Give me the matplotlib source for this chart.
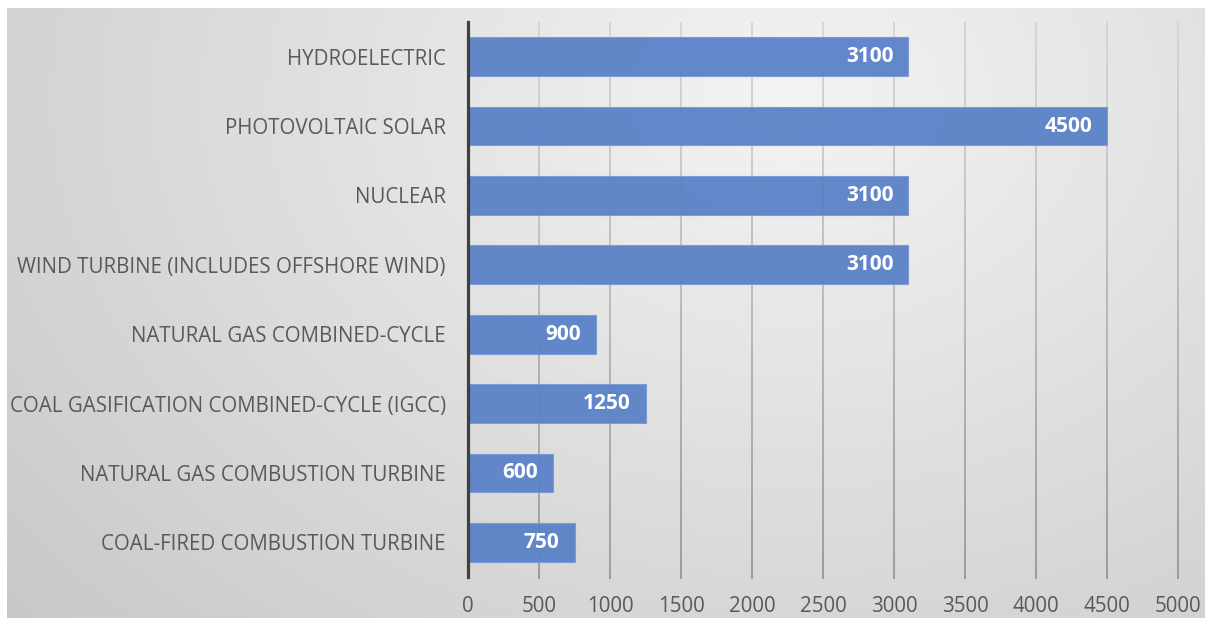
import numpy as np
import matplotlib
matplotlib.use("Agg")
import matplotlib.pyplot as plt
from matplotlib.collections import LineCollection

categories = [
    "HYDROELECTRIC",
    "PHOTOVOLTAIC SOLAR",
    "NUCLEAR",
    "WIND TURBINE (INCLUDES OFFSHORE WIND)",
    "NATURAL GAS COMBINED-CYCLE",
    "COAL GASIFICATION COMBINED-CYCLE (IGCC)",
    "NATURAL GAS COMBUSTION TURBINE",
    "COAL-FIRED COMBUSTION TURBINE",
]
values = [3100, 4500, 3100, 3100, 900, 1250, 600, 750]
x_ticks = [0, 500, 1000, 1500, 2000, 2500, 3000, 3500, 4000, 4500, 5000]

W, H = 1205, 618
fig = plt.figure(figsize=(W / 100, H / 100), dpi=100)
fig.patch.set_facecolor("white")

# radial grey gradient panel behind the chart
bg = fig.add_axes([7 / W, 0, 1 - 7 / W, 1 - 8 / H])
bg.set_axis_off()
yy, xx = np.mgrid[0:610, 0:1198]
cx, cy = 780, 90
d = np.sqrt(((xx - cx) / 1.0) ** 2 + ((yy - cy) / 0.75) ** 2)
d = d / d.max()
shade = 0.955 - 0.17 * d
img = np.dstack([shade, shade, shade])
bg.imshow(img, aspect="auto", extent=[0, 1, 0, 1], origin="upper")
bg.set_xlim(0, 1)
bg.set_ylim(0, 1)

left, right = 468 / W, 1178 / W
bottom, top = 1 - 577 / H, 1 - 22 / H
ax = fig.add_axes([left, bottom, right - left, top - bottom])
ax.patch.set_alpha(0)

n = len(categories)
y = np.arange(n)
ax.set_xlim(0, 5000)
ax.set_ylim(n - 0.5, -0.5)

# vertical gridlines, fading from dark at the bottom to light at the top
steps = 40
ys = np.linspace(n - 0.5 + 0.03, -0.5, steps + 1)
segs, cols = [], []
for t in x_ticks[1:]:
    for i in range(steps):
        segs.append([(t, ys[i]), (t, ys[i + 1])])
        f = i / steps
        g = 0.55 + 0.27 * f
        cols.append((g, g, g))
ax.add_collection(LineCollection(segs, colors=cols, linewidths=1.1,
                                 zorder=1, clip_on=False))

ax.barh(y, values, height=0.56, color="#5a82c8", edgecolor="#7b9ad3",
        linewidth=0.8, alpha=0.95, zorder=2)

label_font = "Open Sans"
for yi, v in zip(y, values):
    ax.text(v - 105, yi, f"{v}", ha="right", va="center", color="white",
            fontsize=15, fontweight="bold", family=label_font, zorder=3)

ax.set_yticks(y)
ax.set_yticklabels(categories, fontsize=14.8, color="#595959", family=label_font)
ax.set_xticks(x_ticks)
ax.set_xticklabels([str(t) for t in x_ticks], fontsize=14.8, color="#595959",
                   family=label_font)
ax.tick_params(axis="both", length=0)
ax.tick_params(axis="y", pad=16)
ax.tick_params(axis="x", pad=14)

for s in ["top", "right", "bottom"]:
    ax.spines[s].set_visible(False)
ax.spines["left"].set_color("#404040")
ax.spines["left"].set_linewidth(2.3)
ax.spines["left"].set_zorder(4)

fig.savefig("out.png", dpi=100)
